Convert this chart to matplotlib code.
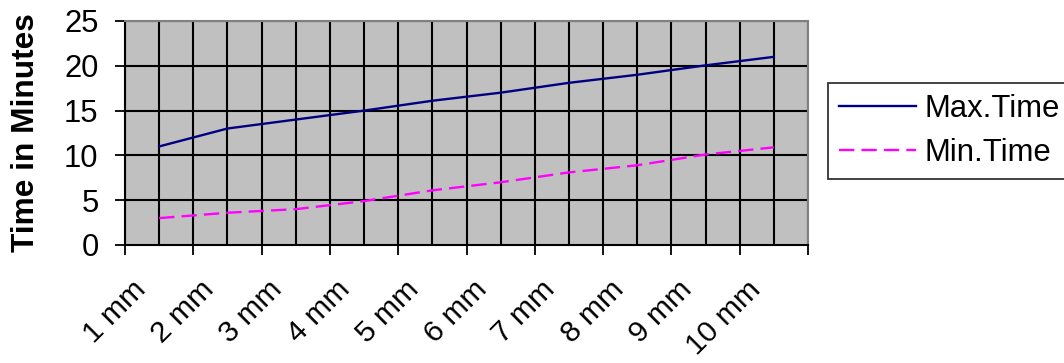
import matplotlib
matplotlib.use("Agg")
import matplotlib.pyplot as plt
from matplotlib.transforms import ScaledTranslation
import numpy as np

# hole diameter categories and measured times
categories = ["1 mm", "2 mm", "3 mm", "4 mm", "5 mm",
              "6 mm", "7 mm", "8 mm", "9 mm", "10 mm"]
max_time = [11, 13, 14, 15, 16.1, 17, 18.1, 19, 20.05, 21]
min_time = [3, 3.6, 4, 4.9, 6.1, 7, 8.1, 8.9, 10.1, 10.9]

plt.rcParams["font.family"] = ["Liberation Sans", "DejaVu Sans"]
FS = 22.3

fig = plt.figure(figsize=(10.64, 3.63), dpi=100)
ax = fig.add_axes([125 / 1064, 1 - 245 / 363, 683 / 1064, 224 / 363])
ax.set_facecolor("#C0C0C0")

x = np.arange(len(categories)) + 0.5
ax.plot(x, max_time, color="#000080", lw=1.7, label="Max.Time", zorder=3)
ax.plot(x, min_time, color="#FF00FF", lw=1.7, dashes=(6.5, 3), label="Min.Time",
        zorder=3)

ax.set_xlim(0, len(categories))
ax.set_ylim(0, 25)

# grid: boundaries and category centres
for gx in np.arange(0, len(categories) + 0.01, 0.5):
    ax.axvline(gx, color="black", lw=1.5, zorder=1)
for gy in range(5, 26, 5):
    ax.axhline(gy, color="black", lw=1.5, zorder=1)

for side in ["left", "bottom"]:
    ax.spines[side].set_color("black")
    ax.spines[side].set_linewidth(1.5)
for side in ["top", "right"]:
    ax.spines[side].set_color("#808080")
    ax.spines[side].set_linewidth(1.5)

ax.set_yticks(range(0, 26, 5))
ax.tick_params(axis="y", direction="out", length=7, width=1.3,
               pad=12, labelsize=FS)

ax.set_xticks(np.arange(0, len(categories) + 1))
ax.set_xticklabels([])
ax.tick_params(axis="x", which="major", direction="out", length=7, width=1.3)

ax.set_xticks(x, minor=True)
ax.set_xticklabels(categories, minor=True, rotation=45, ha="right",
                   va="center", rotation_mode="anchor", fontsize=21.6)
ax.tick_params(axis="x", which="minor", length=0, pad=29)
shift = ScaledTranslation(-18 / 100, 0, fig.dpi_scale_trans)
for lbl in ax.get_xticklabels(minor=True):
    lbl.set_transform(lbl.get_transform() + shift)

fig.text(26 / 1064, 1 - 133 / 363, "Time in Minutes", rotation=90,
         ha="center", va="center", fontsize=22.8, fontweight="bold")

leg = fig.legend(loc="upper left", bbox_to_anchor=(828 / 1064, 1 - 83 / 363),
                 fontsize=FS, frameon=True, fancybox=False, shadow=False,
                 handlelength=2.5, handletextpad=0.25, borderpad=0.35,
                 labelspacing=0.45, borderaxespad=0)
leg.get_frame().set_edgecolor("black")
leg.get_frame().set_linewidth(1.3)

fig.savefig("out.png", dpi=100)
